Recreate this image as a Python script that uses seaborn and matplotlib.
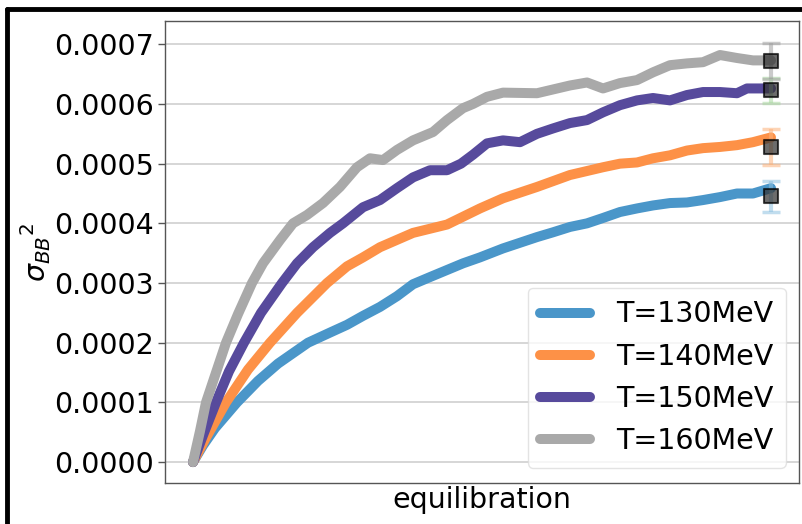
import matplotlib
matplotlib.use("Agg")
import matplotlib.pyplot as plt
import numpy as np
import pandas as pd
import seaborn as sns
from matplotlib.lines import Line2D

# ---------------- data (sigma_BB^2 vs equilibration step) ----------------
labels = ["T=130MeV", "T=140MeV", "T=150MeV", "T=160MeV"]
colors = ["#4a96c9", "#fd9147", "#574a9c", "#a9a9a9"]
err_colors = ["#8fc1e0", "#fdb27a", "#a8d8a0", "#a0a0a0"]

x_130 = [0, 10, 22, 44, 65, 85, 115, 137, 154, 170, 187, 204, 220, 237, 270, 287, 310, 344, 360, 377,
         394, 410, 427, 444, 460, 477, 494, 510, 527, 544, 560, 578]
y_130 = [0.0, 0.000028, 0.000057, 0.000100, 0.000136, 0.000165, 0.000200, 0.000217, 0.000230, 0.000245,
         0.000260, 0.000278, 0.000298, 0.000310, 0.000333, 0.000343, 0.000358, 0.000377, 0.000385, 0.000394,
         0.000400, 0.000409, 0.000419, 0.000425, 0.000430, 0.000434, 0.000435, 0.000439, 0.000444,
         0.000450, 0.000450, 0.000459]

x_140 = [0, 12, 33, 55, 77, 104, 134, 154, 170, 187, 220, 254, 287, 310, 344, 377, 410, 427, 444, 460,
         477, 494, 510, 527, 544, 560, 578]
y_140 = [0.0, 0.000038, 0.000100, 0.000155, 0.000200, 0.000250, 0.000300, 0.000328, 0.000343, 0.000360,
         0.000384, 0.000398, 0.000425, 0.000442, 0.000461, 0.000481, 0.000494, 0.000500, 0.000502, 0.000509,
         0.000514, 0.000522, 0.000526, 0.000528, 0.000531, 0.000536, 0.000544]

x_150 = [0, 10, 23, 36, 51, 68, 89, 104, 120, 137, 150, 170, 187, 204, 220, 237, 254, 268, 280, 294, 310, 327,
         344, 360, 377, 394, 410, 427, 444, 460, 477, 494, 510, 527, 544, 554, 578]
y_150 = [0.0, 0.000045, 0.000100, 0.000152, 0.000200, 0.000250, 0.000300, 0.000333, 0.000360, 0.000384,
         0.000400, 0.000427, 0.000439, 0.000459, 0.000477, 0.000489, 0.000489, 0.000500, 0.000515, 0.000534,
         0.000539, 0.000536, 0.000550, 0.000559, 0.000568, 0.000573, 0.000586, 0.000598, 0.000606, 0.000610,
         0.000606, 0.000615, 0.000620, 0.000620, 0.000618, 0.000626, 0.000626]

x_160 = [0, 7, 13, 23, 33, 45, 59, 70, 87, 100, 114, 130, 147, 164, 177, 190, 204, 220, 240, 254, 270, 280,
         294, 310, 344, 377, 394, 410, 427, 444, 460, 477, 494, 510, 527, 544, 560, 578]
y_160 = [0.0, 0.000052, 0.000100, 0.000150, 0.000200, 0.000248, 0.000300, 0.000333, 0.000372, 0.000400,
         0.000414, 0.000434, 0.000461, 0.000494, 0.000509, 0.000506, 0.000523, 0.000539, 0.000553, 0.000573,
         0.000593, 0.000600, 0.000612, 0.000619, 0.000618, 0.000631, 0.000636, 0.000626, 0.000635, 0.000640,
         0.000653, 0.000665, 0.000668, 0.000670, 0.000682, 0.000677, 0.000673, 0.000673]

# final averaged values with error bars
err_x = [578, 578, 578, 578]
err_y = [0.0004455, 0.0005276, 0.0006230, 0.0006716]
err_e = [0.000026, 0.000030, 0.000021, 0.000030]

series_x = [x_130, x_140, x_150, x_160]
series_y = [y_130, y_140, y_150, y_160]

frames = []
for lab, xs, ys in zip(labels, series_x, series_y):
    frames.append(pd.DataFrame({"step": xs, "sigma": ys, "T": lab}))
df = pd.concat(frames, ignore_index=True)
err_df = pd.DataFrame({"step": err_x, "sigma": err_y, "err": err_e, "T": labels})

# ---------------- plotting ----------------
sns.set_style("whitegrid")
plt.rcParams["font.family"] = ["DejaVu Sans"]
plt.rcParams["text.color"] = "black"
plt.rcParams["axes.labelcolor"] = "black"
FS = 20.5

fig = plt.figure(figsize=(8.03, 5.24), dpi=100)
ax = fig.add_axes([165 / 803, 1 - 483 / 524, (799 - 165) / 803, (483 - 21) / 524])

sns.lineplot(data=df, x="step", y="sigma", hue="T", palette=dict(zip(labels, colors)),
             linewidth=7.2, estimator=None, sort=False, legend=False, ax=ax)

for i, row in err_df.iterrows():
    ax.errorbar(row["step"], row["sigma"], yerr=row["err"], fmt="none",
                ecolor=err_colors[i], elinewidth=3, capsize=6.5, capthick=2.5, alpha=0.55, zorder=4)
sns.scatterplot(data=err_df, x="step", y="sigma", marker="s", s=95, color="#333333",
                edgecolor="black", linewidth=1.5, alpha=0.72, zorder=5, legend=False, ax=ax)

ax.set_xlim(-28, 606)
ax.set_ylim(-0.000035, 0.000739)
ax.set_yticks(np.arange(0, 0.00071, 0.0001))
ax.set_yticklabels([f"{v:.4f}" for v in np.arange(0, 0.00071, 0.0001)])
ax.set_xticks([])
ax.grid(axis="x", visible=False)
ax.grid(axis="y", color="#d0d0d0", linewidth=1.2)
ax.tick_params(axis="y", labelsize=FS, labelcolor="black", left=True, length=5, width=1,
               color="#555555", pad=3)
for sp in ax.spines.values():
    sp.set_color("#555555")
    sp.set_linewidth(1.0)

ax.set_xlabel("equilibration", fontsize=FS, labelpad=2, color="black")
ax.set_ylabel(r"$\sigma_{BB}{}^{2}$", fontsize=FS, labelpad=1, color="black")

handles = [Line2D([0], [0], color=c, lw=7.2) for c in colors]
leg = ax.legend(handles, labels, loc="lower right", fontsize=FS, handlelength=1.75,
                frameon=True, framealpha=0.8, edgecolor="#dddddd", fancybox=True,
                borderpad=0.45, labelspacing=0.5, handletextpad=0.9, borderaxespad=0,
                bbox_to_anchor=((786 - 165) / 634, (483 - 468) / 462))
for t in leg.get_texts():
    t.set_color("black")

# figure frame (black border as in the screenshot)
fig.add_artist(Line2D([7 / 803, 7 / 803], [0, 1 - 8.5 / 524], color="black", lw=3.5,
                      transform=fig.transFigure))
fig.add_artist(Line2D([7 / 803, 1], [1 - 8.5 / 524, 1 - 8.5 / 524], color="black", lw=3.5,
                      transform=fig.transFigure))

fig.savefig("out.png", dpi=100)
